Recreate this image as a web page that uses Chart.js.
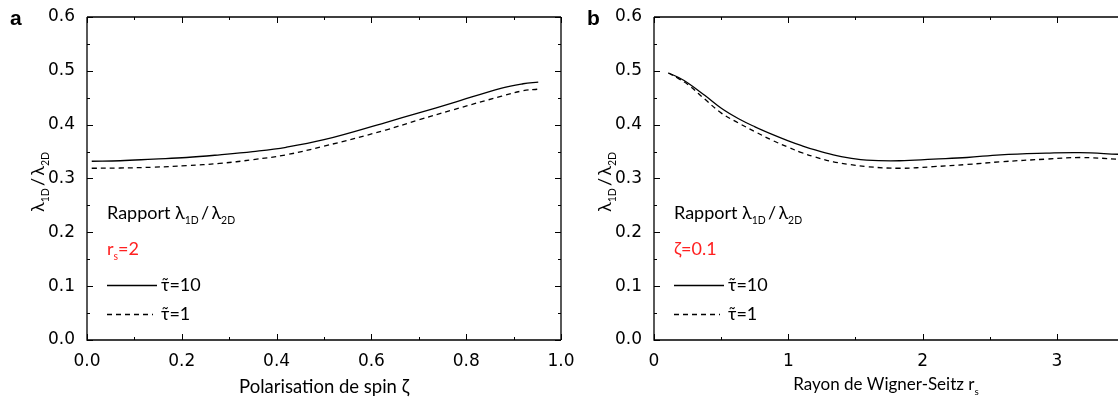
<!DOCTYPE html>
<html lang="fr">
<head>
<meta charset="utf-8">
<script src="https://cdn.jsdelivr.net/npm/chart.js@4.4.0/dist/chart.umd.min.js"></script>
<style>
    body { margin: 0; background: #fff; }
    #wrapA { position: absolute; left: 0; top: 0; width: 580px; height: 403px; }
    #wrapB { position: absolute; left: 580px; top: 0; width: 538px; height: 403px; }
</style>
</head>
<body>
<div id="wrapA"><canvas id="graficoA"></canvas></div>
<div id="wrapB"><canvas id="graficoB"></canvas></div>
<script>
// panneau a : rapport en fonction de la polarisation (rs = 2)
const zetaA = [0.01, 0.07, 0.14, 0.21, 0.28, 0.35, 0.42, 0.5, 0.63, 0.7, 0.77, 0.875, 0.92, 0.952];
const rapportA_tau10 = [0.332, 0.333, 0.336, 0.339, 0.344, 0.350, 0.358, 0.372, 0.404, 0.422, 0.440, 0.468, 0.476, 0.479];
const rapportA_tau1 = [0.319, 0.3195, 0.321, 0.324, 0.328, 0.335, 0.344, 0.360, 0.390, 0.409, 0.427, 0.453, 0.463, 0.466];

// panneau b : rapport en fonction de rs (zeta = 0.1)
const rsB = [0.107, 0.18, 0.255, 0.38, 0.504, 0.63, 0.752, 0.88, 1.0, 1.1, 1.2, 1.335, 1.46, 1.584, 1.83, 2.08, 2.33, 2.58, 2.92, 3.17, 3.455];
const rapportB_tau10 = [0.496, 0.488, 0.477, 0.454, 0.430, 0.411, 0.396, 0.382, 0.370, 0.361, 0.353, 0.344, 0.338, 0.334, 0.333, 0.336, 0.339, 0.344, 0.347, 0.348, 0.345];
const rapportB_tau1 = [0.496, 0.486, 0.474, 0.447, 0.421, 0.403, 0.387, 0.371, 0.358, 0.348, 0.340, 0.331, 0.326, 0.322, 0.319, 0.322, 0.326, 0.331, 0.336, 0.339, 0.336];

const ticksXA = [0, 0.2, 0.4, 0.6, 0.8, 1.0];
const ticksXB = [0, 1, 2, 3];
const ticksY = [0, 0.1, 0.2, 0.3, 0.4, 0.5, 0.6];
const libellesTau = ['τ̃=10', 'τ̃=1'];

const FONT_NUM = "'DejaVu Sans', sans-serif";
const FONT_TXT = "Lato, 'DejaVu Sans', sans-serif";
const RAPPORT = [['λ', false], ['1D', true], ['\u2009/\u2009λ', false], ['2D', true]];

function points(xs, ys) {
    return xs.map((x, i) => ({ x: x, y: ys[i] }));
}

function textoRico(ctx, partes, x, y, size, color, align) {
    let total = 0;
    const anchos = partes.map(([t, sub]) => {
        ctx.font = (sub ? size * 0.58 : size) + 'px ' + FONT_TXT;
        const w = ctx.measureText(t).width;
        total += w;
        return w;
    });
    let cx = align === 'center' ? x - total / 2 : x;
    ctx.fillStyle = color;
    ctx.textAlign = 'left';
    ctx.textBaseline = 'alphabetic';
    partes.forEach(([t, sub], i) => {
        ctx.font = (sub ? size * 0.58 : size) + 'px ' + FONT_TXT;
        ctx.fillText(t, cx, sub ? y + size * 0.3 : y);
        cx += anchos[i];
    });
}

const panneauPlugin = {
    id: 'panneau',
    afterDraw(chart, args, opts) {
        const ctx = chart.ctx;
        const { left, right, top, bottom } = chart.chartArea;
        const sx = chart.scales.x, sy = chart.scales.y;
        ctx.save();
        ctx.strokeStyle = '#000';
        ctx.lineWidth = 1.3;

        // cadre
        ctx.beginPath();
        ctx.moveTo(left, top); ctx.lineTo(left, bottom); ctx.lineTo(right, bottom);
        ctx.moveTo(left, top); ctx.lineTo(right, top);
        if (opts.droite) { ctx.moveTo(right, top); ctx.lineTo(right, bottom); }
        ctx.stroke();

        // graduations vers l'interieur
        ctx.lineWidth = 1;
        ctx.beginPath();
        for (let k = 0; k * opts.pasX / 2 <= sx.max + 1e-9; k++) {
            const v = k * opts.pasX / 2;
            const px = Math.round(sx.getPixelForValue(v)) + 0.5;
            const l = k % 2 === 0 ? 6 : 3;
            ctx.moveTo(px, bottom); ctx.lineTo(px, bottom - l);
            ctx.moveTo(px, top); ctx.lineTo(px, top + l);
        }
        for (let k = 0; k <= 12; k++) {
            const py = Math.round(sy.getPixelForValue(k * 0.05)) + 0.5;
            const l = k % 2 === 0 ? 6 : 3;
            ctx.moveTo(left, py); ctx.lineTo(left + l, py);
            if (opts.droite) { ctx.moveTo(right, py); ctx.lineTo(right - l, py); }
        }
        ctx.stroke();

        // lettre du panneau
        ctx.fillStyle = '#000';
        ctx.font = "bold 21px 'Liberation Sans', Arial, sans-serif";
        ctx.textAlign = 'left';
        ctx.textBaseline = 'alphabetic';
        ctx.fillText(opts.lettre, opts.lettreX, 25);

        // titre axe y
        ctx.save();
        ctx.translate(left - 43, 182);
        ctx.rotate(-Math.PI / 2);
        textoRico(ctx, RAPPORT, 0, 0, 18, '#000', 'center');
        ctx.restore();

        // titre axe x
        textoRico(ctx, opts.titreX, (left + right) / 2, opts.titreXY, opts.titreXTaille, '#000', 'center');

        // legende
        const lx = left + 20;
        textoRico(ctx, [['Rapport ', false]].concat(RAPPORT), lx, 219, 18, '#000', 'left');
        textoRico(ctx, opts.param, lx, 255, 18, '#ff2020', 'left');
        chart.data.datasets.forEach((ds, i) => {
            const ly = 285 + i * 29;
            ctx.strokeStyle = ds.borderColor;
            ctx.lineWidth = ds.borderWidth;
            ctx.setLineDash(ds.borderDash || []);
            ctx.beginPath();
            ctx.moveTo(lx, ly + 0.5); ctx.lineTo(lx + (i === 0 ? 50 : 46), ly + 0.5);
            ctx.stroke();
            ctx.setLineDash([]);
            textoRico(ctx, [[ds.label, false]], lx + 54, ly + 6, 18, '#000', 'left');
        });
        ctx.restore();
    }
};

function crearGrafico(id, xs, ys10, ys1, xMax, ticksX, opts) {
    const ctx = document.getElementById(id).getContext('2d');
    return new Chart(ctx, {
        type: 'line',
        data: {
            datasets: [{
                label: libellesTau[0],
                data: points(xs, ys10),
                borderColor: '#000',
                borderWidth: 1.3,
                pointRadius: 0,
                tension: 0.4,
                fill: false
            }, {
                label: libellesTau[1],
                data: points(xs, ys1),
                borderColor: '#000',
                borderWidth: 1.3,
                borderDash: [5, 4],
                pointRadius: 0,
                tension: 0.4,
                fill: false
            }]
        },
        options: {
            responsive: true,
            maintainAspectRatio: false,
            animation: false,
            layout: { padding: { top: 17, right: opts.padDroite, left: 0, bottom: 0 } },
            plugins: {
                legend: { display: false },
                tooltip: { enabled: false },
                panneau: opts
            },
            scales: {
                x: {
                    type: 'linear',
                    min: 0,
                    max: xMax,
                    grid: { display: false },
                    border: { display: false },
                    afterBuildTicks: s => { s.ticks = ticksX.map(v => ({ value: v })); },
                    afterFit: s => { s.height = 63; },
                    ticks: {
                        padding: 3,
                        color: '#000',
                        font: { family: FONT_NUM, size: 17 },
                        maxRotation: 0,
                        callback: v => opts.decimales ? v.toFixed(1) : String(v)
                    }
                },
                y: {
                    min: 0,
                    max: 0.6,
                    grid: { display: false },
                    border: { display: false },
                    afterBuildTicks: s => { s.ticks = ticksY.map(v => ({ value: v })); },
                    afterFit: s => { s.width = opts.largeurY; },
                    ticks: {
                        padding: 4,
                        color: '#000',
                        font: { family: FONT_NUM, size: 17 },
                        callback: v => v.toFixed(1)
                    }
                }
            }
        },
        plugins: [panneauPlugin]
    });
}

document.addEventListener('DOMContentLoaded', () => {
    crearGrafico('graficoA', zetaA, rapportA_tau10, rapportA_tau1, 1.0, ticksXA, {
        lettre: 'a', lettreX: 10, droite: true, pasX: 0.2, decimales: true,
        largeurY: 87, padDroite: 19,
        titreX: [['Polarisation de spin ζ', false]], titreXY: 393, titreXTaille: 18.5,
        param: [['r', false], ['s', true], ['=2', false]]
    });
    crearGrafico('graficoB', rsB, rapportB_tau10, rapportB_tau1, 3.455, ticksXB, {
        lettre: 'b', lettreX: 7, droite: false, pasX: 1, decimales: false,
        largeurY: 74, padDroite: 0,
        titreX: [['Rayon de Wigner-Seitz r', false], ['s', true]], titreXY: 390, titreXTaille: 17,
        param: [['ζ=0.1', false]]
    });
});
</script>
</body>
</html>
